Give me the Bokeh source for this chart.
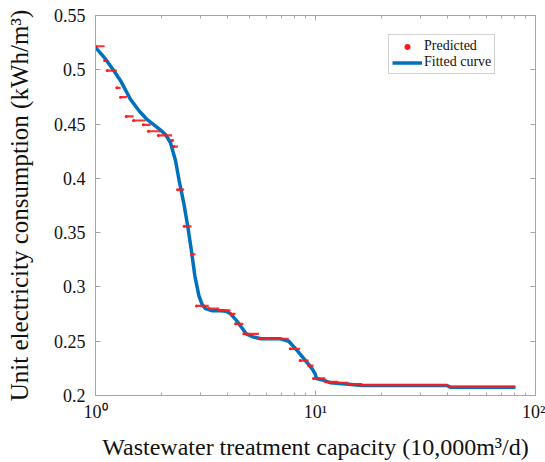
from bokeh.plotting import figure
from bokeh.models import (Range1d, FixedTicker, LogAxis, LinearAxis, Legend, LegendItem)
from bokeh.embed import file_html
from bokeh.resources import INLINE

# Fitted curve
fit_x = [1.00, 1.10, 1.21, 1.30, 1.44, 1.58, 1.72, 1.85, 1.97, 2.08, 2.19, 2.31, 2.40, 2.52,
         2.63, 2.73, 2.83, 2.95, 3.05, 3.16, 3.40, 3.70, 3.93, 4.11, 4.38, 4.84, 5.20, 5.66,
         6.93, 7.56, 8.26, 9.01, 9.66, 9.96, 10.1, 11.1, 11.7, 14.1, 16.3, 39.6, 41.1, 81.0]
fit_y = [0.5205, 0.5110, 0.4993, 0.4900, 0.4730, 0.4620, 0.4540, 0.4490, 0.4447, 0.4404,
         0.4330, 0.4164, 0.3980, 0.3770, 0.3550, 0.3330, 0.3100, 0.2920, 0.2840, 0.2800,
         0.2780, 0.2780, 0.2775, 0.2752, 0.2690, 0.2568, 0.2540, 0.2522, 0.2522, 0.2500,
         0.2413, 0.2322, 0.2245, 0.2200, 0.2157, 0.2135, 0.2117, 0.2104, 0.2092, 0.2092,
         0.2075, 0.2075]

# Predicted values: runs of points at equal level (start x, end x, level)
pred_x0 = [1.00, 1.10, 1.13, 1.25, 1.30, 1.38, 1.49, 1.65, 1.74, 1.93, 2.23, 2.27, 2.36, 2.53,
           2.73, 2.88, 3.27, 3.65, 4.11, 4.33, 4.72, 5.53, 7.68, 8.52, 9.30, 9.80, 11.1, 12.6,
           14.1, 16.3, 40.5]
pred_x1 = [1.10, 1.13, 1.25, 1.30, 1.39, 1.49, 1.69, 1.78, 1.97, 2.23, 2.27, 2.37, 2.53, 2.73,
           2.85, 3.27, 3.65, 4.11, 4.33, 4.70, 5.53, 7.56, 8.52, 9.30, 9.80, 11.1, 12.6, 14.1,
           16.3, 40.0, 81.0]
pred_y = [0.5217, 0.5086, 0.4993, 0.4834, 0.4748, 0.4570, 0.4533, 0.4493, 0.4434, 0.4395,
          0.4349, 0.4293, 0.3896, 0.3558, 0.3301, 0.2825, 0.2801, 0.2785, 0.2752, 0.2660,
          0.2568, 0.2522, 0.2430, 0.2322, 0.2276, 0.2157, 0.2126, 0.2117, 0.2104, 0.2095,
          0.2080]

y_ticks = [0.2, 0.25, 0.3, 0.35, 0.4, 0.45, 0.5, 0.55]
y_tick_labels = ["0.2", "0.25", "0.3", "0.35", "0.4", "0.45", "0.5", "0.55"]
x_ticks = [1, 10, 100]
x_tick_labels = ["10\u2070", "10\u00b9", "10\u00b2"]
x_minor = [2, 3, 4, 5, 6, 7, 8, 9, 20, 30, 40, 50, 60, 70, 80, 90]

FONT = "Liberation Serif"
GREY = "#a6a6a6"
RED = "#ff1a1a"

p = figure(width=545, height=462, x_axis_type="log", output_backend="svg",
           toolbar_location=None, x_range=Range1d(1, 100), y_range=Range1d(0.2, 0.55),
           min_border_left=95, min_border_right=10, min_border_top=15, min_border_bottom=67)
p.xgrid.visible = False
p.ygrid.visible = False
p.outline_line_color = GREY
p.background_fill_color = "white"
p.border_fill_color = "white"

line_r = p.line(fit_x, fit_y, line_color="#0072BD", line_width=3.5)
seg_r = p.segment(x0=pred_x0, y0=pred_y, x1=pred_x1, y1=pred_y, line_color=RED,
                  line_width=2.2, line_alpha=0.9)
dot_r = p.scatter(pred_x0, pred_y, marker="circle", size=3, fill_color=RED,
                  line_color=None)

def style_axis(ax, labels=True):
    ax.axis_line_color = GREY
    ax.major_tick_line_color = GREY
    ax.minor_tick_line_color = GREY
    ax.major_tick_in = 5
    ax.major_tick_out = 0
    ax.minor_tick_in = 3
    ax.minor_tick_out = 0
    if labels:
        ax.major_label_text_font = FONT
        ax.major_label_text_font_size = "18px"
        ax.major_label_text_color = "#111111"
        ax.axis_label_text_font = FONT
        ax.axis_label_text_font_style = "normal"
        ax.axis_label_text_color = "#111111"
    else:
        ax.major_label_text_font_size = "1px"
        ax.major_label_text_alpha = 0
        ax.major_label_standoff = 0

xa = p.xaxis[0]
xa.ticker = FixedTicker(ticks=x_ticks, minor_ticks=x_minor)
xa.major_label_overrides = dict(zip(x_ticks, x_tick_labels))
xa.axis_label = "Wastewater treatment capacity (10,000m\u00b3/d)"
style_axis(xa)
xa.axis_label_text_font_size = "24px"
xa.major_label_standoff = 6
xa.axis_label_standoff = 9

ya = p.yaxis[0]
ya.ticker = FixedTicker(ticks=y_ticks)
ya.major_label_overrides = dict(zip(y_ticks, y_tick_labels))
ya.axis_label = "Unit electricity consumption (kWh/m\u00b3)"
style_axis(ya)
ya.axis_label_text_font_size = "25px"
ya.major_label_standoff = 10
ya.axis_label_standoff = 18
ya.minor_tick_in = 0

top = LogAxis(ticker=FixedTicker(ticks=x_ticks, minor_ticks=x_minor))
style_axis(top, labels=False)
p.add_layout(top, "above")
right = LinearAxis(ticker=FixedTicker(ticks=y_ticks))
style_axis(right, labels=False)
right.minor_tick_in = 0
p.add_layout(right, "right")

legend = Legend(items=[LegendItem(label="Predicted", renderers=[dot_r]),
                       LegendItem(label="Fitted curve", renderers=[line_r])],
                location=(293, 321))
legend.label_text_font = FONT
legend.label_text_font_size = "14px"
legend.label_text_color = "#111111"
legend.glyph_width = 30
legend.glyph_height = 15
legend.label_height = 15
legend.label_standoff = 2
legend.spacing = 0
legend.padding = 3
legend.margin = 0
legend.border_line_color = GREY
legend.border_line_width = 1.5
p.add_layout(legend, "center")

open("out.html", "w").write(file_html(p, INLINE))
